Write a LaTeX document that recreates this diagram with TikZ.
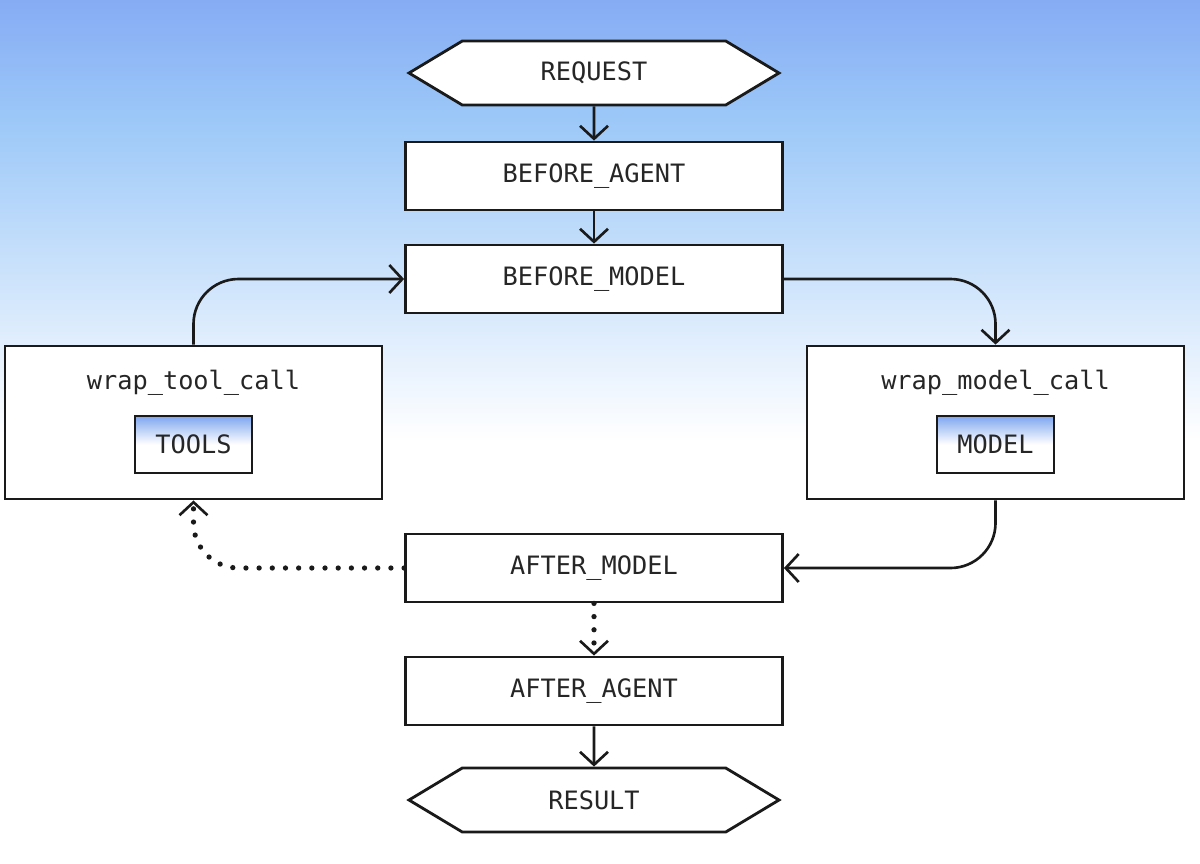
\documentclass[tikz,border=0pt]{standalone}
\usepackage{fontspec}
\setmonofont{DejaVu Sans Mono}
\usetikzlibrary{arrows.meta,shapes.symbols}
\definecolor{skytop}{HTML}{86ACF4}
\definecolor{skymid}{HTML}{9CC8F8}
\definecolor{inkline}{HTML}{1A1A1A}
\definecolor{inktext}{HTML}{262626}
\definecolor{boxblue}{HTML}{7EA6F0}
\tikzset{
  hook/.style={draw=inkline, line width=1.6pt, fill=white, minimum width=7.54cm,
    minimum height=1.36cm, text=inktext, font=\ttfamily\fontsize{14.4}{16}\selectfont},
  endcap/.style={hook, signal, signal to=west and east, signal pointer angle=62,
    minimum height=1.28cm, minimum width=7.4cm},
  wrapbox/.style={hook, minimum height=3.06cm},
  inner/.style={hook, minimum width=2.34cm, minimum height=1.14cm,
    top color=boxblue, bottom color=white, middle color=white},
  flow/.style={draw=inkline, line width=1.5pt, rounded corners=0.9cm},
  dots/.style={flow, line width=3pt, line cap=round, dash pattern=on 0pt off 7.5pt}
}
\begin{document}
\begin{tikzpicture}[>={Straight Barb[length=2.6mm,width=5.6mm,line width=1.5pt]}]
  \useasboundingbox (0,0) rectangle (24,-17.26);
  % 背景 (上が青, 下に向かって白)
  \fill[white] (0,0) rectangle (24,-17.26);
  \shade[top color=skytop, bottom color=skymid] (0,0) rectangle (24,-2.4);
  \shade[top color=skymid, bottom color=white] (0,-2.4) rectangle (24,-8.8);
  % 中央の列
  \node[endcap] (req) at (11.88,-1.46) {REQUEST};
  \node[hook] (ba) at (11.88,-3.52) {BEFORE\_AGENT};
  \node[hook] (bm) at (11.88,-5.58) {BEFORE\_MODEL};
  \node[hook] (am) at (11.88,-11.36) {AFTER\_MODEL};
  \node[hook] (aa) at (11.88,-13.82) {AFTER\_AGENT};
  \node[endcap] (res) at (11.88,-16.0) {RESULT};
  % 左右の wrap
  \node[wrapbox] (wtc) at (3.87,-8.45) {};
  \node[text=inktext, font=\ttfamily\fontsize{14.4}{16}\selectfont] (wtct) at (3.87,-7.66) {wrap\_tool\_call};
  \node[inner] (tools) at (3.87,-8.89) {TOOLS};
  \node[wrapbox] (wmc) at (19.91,-8.45) {};
  \node[text=inktext, font=\ttfamily\fontsize{14.4}{16}\selectfont] (wmct) at (19.91,-7.66) {wrap\_model\_call};
  \node[inner] (model) at (19.91,-8.89) {MODEL};
  % 矢印
  \draw[flow, ->] (req) -- (ba);
  \draw[flow, ->] (ba) -- (bm);
  \draw[flow, ->] (wtc.north) |- (bm.west);
  \draw[flow, ->] (bm.east) -| (wmc.north);
  \draw[flow, ->] (wmc.south) |- (am.east);
  \draw[dots, ->] (am.west) -| (wtc.south);
  \draw[dots, ->] (am) -- (aa);
  \draw[flow, ->] (aa) -- (res);
\end{tikzpicture}
\end{document}
